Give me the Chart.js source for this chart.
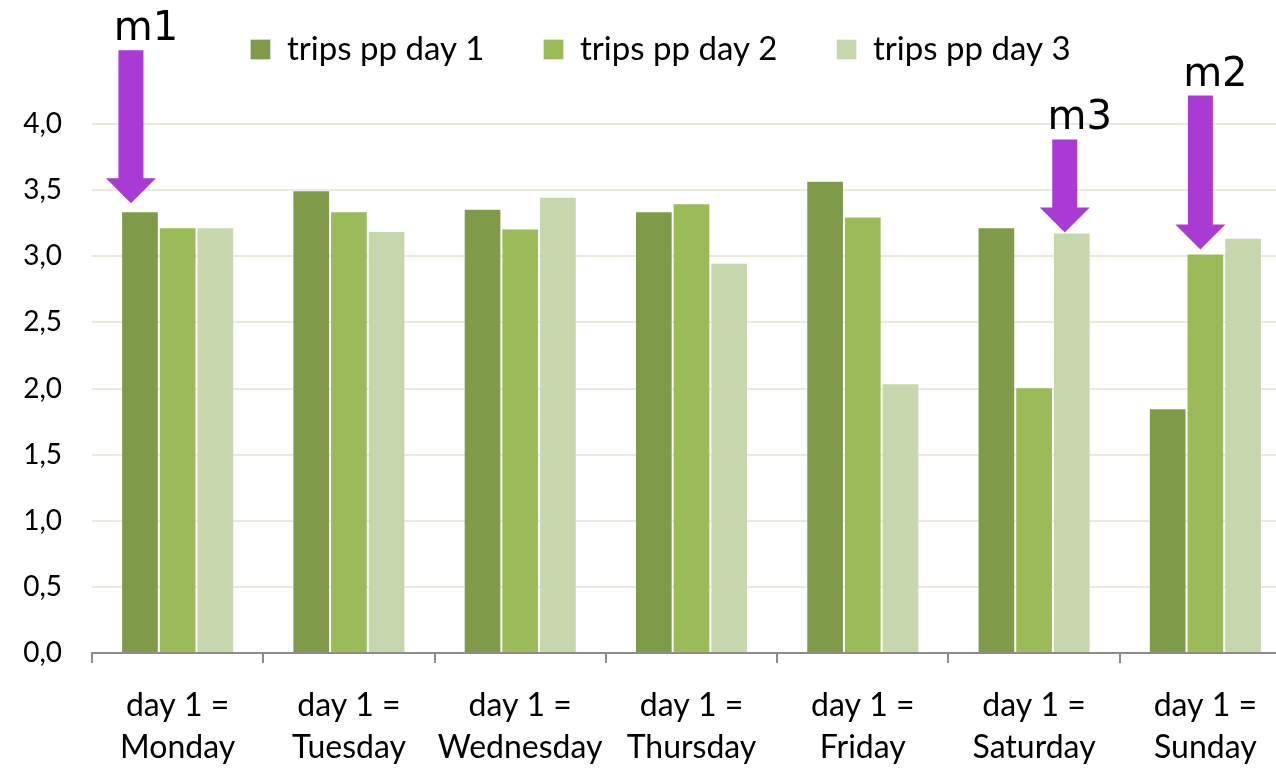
<!DOCTYPE html>
<html>
<head>
<meta charset="utf-8">
<script src="https://cdn.jsdelivr.net/npm/chart.js@4.4.0/dist/chart.umd.min.js"></script>
<style>
  html, body { margin: 0; padding: 0; background: #fff; overflow: hidden; }
  #wrap { width: 1300px; height: 769px; }
</style>
</head>
<body>
<div id="wrap"><canvas id="myChart"></canvas></div>
<script>
const categories = [
  ['day 1 =', 'Monday'],
  ['day 1 =', 'Tuesday'],
  ['day 1 =', 'Wednesday'],
  ['day 1 =', 'Thursday'],
  ['day 1 =', 'Friday'],
  ['day 1 =', 'Saturday'],
  ['day 1 =', 'Sunday'],
];
const seriesNames = ['trips pp day 1', 'trips pp day 2', 'trips pp day 3'];
const day1 = [3.34, 3.50, 3.36, 3.34, 3.57, 3.22, 1.85];
const day2 = [3.22, 3.34, 3.21, 3.40, 3.30, 2.01, 3.02];
const day3 = [3.22, 3.19, 3.45, 2.95, 2.04, 3.18, 3.14];
const yTicks = [0, 0.5, 1, 1.5, 2, 2.5, 3, 3.5, 4];

// markers point at one bar each: series index, category index
const markerLabels = ['m1', 'm3', 'm2'];
const markerSeries = [0, 2, 1];
const markerCats = [0, 5, 6];

const colors = ['#7f9b4a', '#9bbb59', '#c6d6ad'];
const font = 'Lato, "Liberation Sans", sans-serif';

// arrow look per marker: length, gap above bar, x shift
const arrowStyle = [
  { len: 153, gap: 8, dx: -9 },
  { len: 93, gap: 0, dx: -7 },
  { len: 154, gap: 4, dx: -5 },
];

const arrows = {
  id: 'arrows',
  afterDatasetsDraw(chart) {
    const ctx = chart.ctx;
    ctx.save();
    markerLabels.forEach((lab, i) => {
      const bar = chart.getDatasetMeta(markerSeries[i]).data[markerCats[i]];
      const st = arrowStyle[i];
      const cx = bar.x + st.dx;
      const tip = bar.y - st.gap;
      const top = tip - st.len;
      const headH = 25, headW = 25, shaftW = 12.5;
      ctx.fillStyle = '#a93bd4';
      ctx.beginPath();
      ctx.moveTo(cx - shaftW, top);
      ctx.lineTo(cx + shaftW, top);
      ctx.lineTo(cx + shaftW, tip - headH);
      ctx.lineTo(cx + headW, tip - headH);
      ctx.lineTo(cx, tip);
      ctx.lineTo(cx - headW, tip - headH);
      ctx.lineTo(cx - shaftW, tip - headH);
      ctx.closePath();
      ctx.fill();
      ctx.fillStyle = '#000';
      ctx.font = '40px "DejaVu Sans", sans-serif';
      ctx.textAlign = 'center';
      ctx.textBaseline = 'alphabetic';
      ctx.fillText(lab, cx + 15, top - 10);
    });
    ctx.restore();
  }
};

const legendHeight = {
  id: 'legendHeight',
  beforeInit(chart) {
    const fit = chart.legend.fit;
    chart.legend.fit = function () {
      fit.bind(chart.legend)();
      this.height = 150;
    };
  },
  afterLayout(chart) {
    // legend sits a bit right of centre in the original
    chart.legend.left += 15;
    chart.legend.right += 15;
  }
};

new Chart(document.getElementById('myChart'), {
  type: 'bar',
  data: {
    labels: categories,
    datasets: [day1, day2, day3].map((d, i) => ({
      label: seriesNames[i],
      data: d,
      backgroundColor: colors[i],
      borderColor: 'rgba(255,255,255,0.3)',
      borderWidth: 1,
      barPercentage: 1,
      categoryPercentage: 0.66,
    })),
  },
  plugins: [legendHeight, arrows],
  options: {
    responsive: true,
    maintainAspectRatio: false,
    animation: false,
    layout: { padding: { top: -26, right: 9, left: 0, bottom: 0 } },
    plugins: {
      tooltip: { enabled: false },
      legend: {
        position: 'top',
        labels: {
          boxWidth: 20,
          boxHeight: 20,
          padding: 59,
          color: '#000',
          font: { family: font, size: 33 },
        },
      },
    },
    scales: {
      x: {
        grid: {
          offset: true,
          drawOnChartArea: false,
          drawTicks: true,
          tickLength: 10,
          color: '#8c8c8c',
          lineWidth: 2,
        },
        border: { color: '#8c8c8c', width: 2 },
        ticks: {
          color: '#000',
          padding: 22,
          maxRotation: 0,
          font: { family: font, size: 32, lineHeight: 1.3 },
        },
        afterFit(scale) { scale.height = 116; },
      },
      y: {
        min: 0,
        max: 4,
        afterBuildTicks(scale) { scale.ticks = yTicks.map(v => ({ value: v })); },
        grid: { color: '#ebe8de', lineWidth: 2, drawTicks: false },
        border: { display: false },
        ticks: {
          color: '#000',
          padding: 30,
          font: { family: font, size: 28 },
          callback: v => v.toFixed(1).replace('.', ','),
        },
        afterFit(scale) { scale.width = 92; },
      },
    },
  },
});
</script>
</body>
</html>
